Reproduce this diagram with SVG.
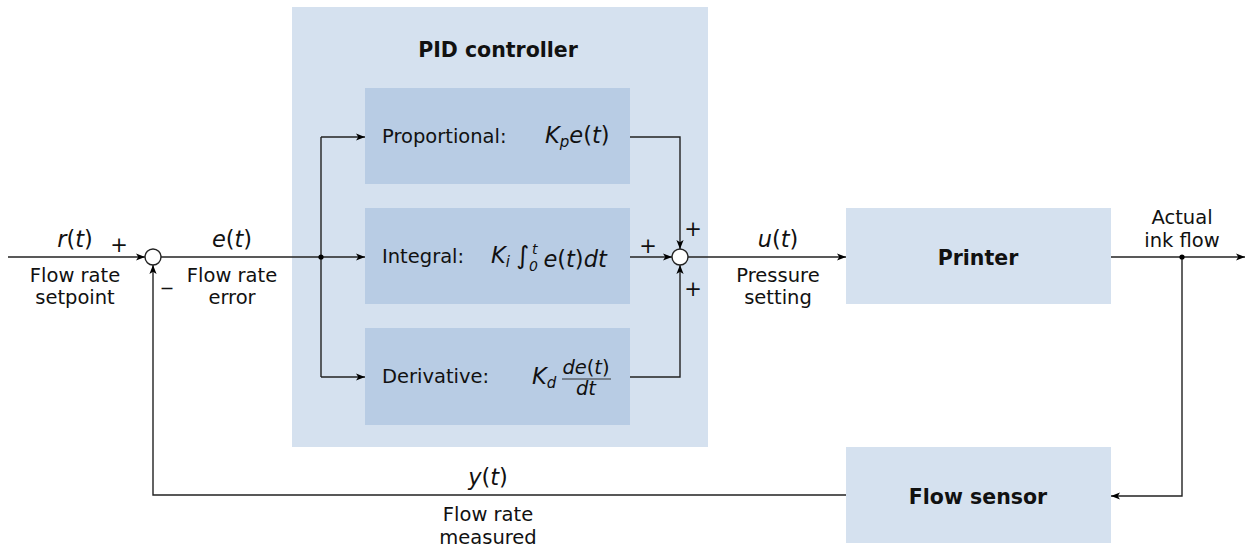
<svg xmlns="http://www.w3.org/2000/svg" width="1252" height="551" viewBox="0 0 1252 551">
<defs>
<marker id="ah" viewBox="0 0 10 10" refX="10" refY="5" markerWidth="9" markerHeight="9" markerUnits="userSpaceOnUse" orient="auto">
<path d="M0,1 L10,5 L0,9 L2.5,5 Z" fill="#000"/>
</marker>
</defs>
<style>
text{font-family:"DejaVu Sans","Liberation Sans",sans-serif;font-size:19.5px;fill:#111;text-anchor:middle}
.s{text-anchor:start}
.b{font-weight:bold;font-size:20.5px}
.m{font-style:italic}
.mt{font-size:22.5px}
.outer{fill:#d5e1ef}
.inner{fill:#b8cce4}
.ln{fill:none;stroke:#222;stroke-width:1.4}
.ar{marker-end:url(#ah)}
.sum{fill:#fff;stroke:#222;stroke-width:1.4}
.op{font-size:21px}
</style>
<g id="pid">
<rect class="outer" x="292" y="7" width="416" height="440"/>
<text class="b" x="498" y="57">PID controller</text>
</g>
<g id="proportional">
<rect class="inner" x="365" y="88" width="265" height="96"/>
<text class="s" x="382" y="143">Proportional:</text>
<text class="s mt" x="545" y="143"><tspan class="m">K</tspan><tspan class="m" font-size="15" dy="4">p</tspan><tspan class="m" dy="-4">e</tspan>(<tspan class="m">t</tspan>)</text>
</g>
<g id="integral">
<rect class="inner" x="365" y="208" width="265" height="96"/>
<text class="s" x="382" y="263">Integral:</text>
<text class="s mt" x="491" y="263"><tspan class="m">K</tspan><tspan class="m" font-size="15" dy="4">i</tspan><tspan dy="-3" dx="6" font-size="25">∫</tspan><tspan class="m" font-size="14" dy="7">0</tspan><tspan class="m" font-size="14" dy="-17" dx="-6">t</tspan><tspan class="m" dy="13" dx="6">e</tspan>(<tspan class="m">t</tspan>)<tspan class="m">dt</tspan></text>
</g>
<g id="derivative">
<rect class="inner" x="365" y="328" width="265" height="97"/>
<text class="s" x="382" y="383">Derivative:</text>
<text class="s mt m" x="532" y="384">K<tspan font-size="15" dy="4">d</tspan></text>
<text x="586" y="374" font-size="15"><tspan class="m">de</tspan>(<tspan class="m">t</tspan>)</text>
<line x1="562" y1="379" x2="611" y2="379" stroke="#222" stroke-width="0.9"/>
<text x="586" y="395" font-size="15" class="m">dt</text>
</g>
<g id="printer">
<rect class="outer" x="846" y="208" width="265" height="96"/>
<text class="b" x="978" y="265">Printer</text>
</g>
<g id="flowsensor">
<rect class="outer" x="846" y="447" width="265" height="96"/>
<text class="b" x="978" y="504">Flow sensor</text>
</g>
<g id="connectors">
<path class="ln ar" d="M8,257 H145"/>
<path class="ln" d="M161,257 H321"/>
<path class="ln" d="M321,137 V377"/>
<path class="ln ar" d="M321,137 H365"/>
<path class="ln ar" d="M321,257 H365"/>
<path class="ln ar" d="M321,377 H365"/>
<path class="ln ar" d="M630,137 H680 V249"/>
<path class="ln ar" d="M630,257 H672"/>
<path class="ln ar" d="M630,377 H680 V265"/>
<path class="ln ar" d="M688,257 H846"/>
<path class="ln ar" d="M1111,257 H1245"/>
<path class="ln ar" d="M1182,257 V496 H1111"/>
<path class="ln ar" d="M846,495 H153 V265"/>
<circle cx="321" cy="257" r="2.6" fill="#000"/>
<circle cx="1182" cy="257" r="2.6" fill="#000"/>
</g>
<g id="sum1">
<circle class="sum" cx="153" cy="257" r="8"/>
<text class="op" x="119" y="251.5">+</text>
<text class="op" x="167" y="284">_</text>
</g>
<g id="sum2">
<circle class="sum" cx="680" cy="257" r="8"/>
<text class="op" x="693" y="235.5">+</text>
<text class="op" x="648" y="252.5">+</text>
<text class="op" x="693" y="295.5">+</text>
</g>
<g id="labels">
<text class="mt" x="75" y="247"><tspan class="m">r</tspan>(<tspan class="m">t</tspan>)</text>
<text x="75" y="282">Flow rate</text>
<text x="75" y="304">setpoint</text>
<text class="mt" x="232" y="247"><tspan class="m">e</tspan>(<tspan class="m">t</tspan>)</text>
<text x="232" y="282">Flow rate</text>
<text x="232" y="304">error</text>
<text class="mt" x="778" y="247"><tspan class="m">u</tspan>(<tspan class="m">t</tspan>)</text>
<text x="778" y="282">Pressure</text>
<text x="778" y="304">setting</text>
<text x="1182" y="224">Actual</text>
<text x="1182" y="247">ink flow</text>
<text class="mt" x="488" y="485"><tspan class="m">y</tspan>(<tspan class="m">t</tspan>)</text>
<text x="488" y="521">Flow rate</text>
<text x="488" y="544">measured</text>
</g>
</svg>
